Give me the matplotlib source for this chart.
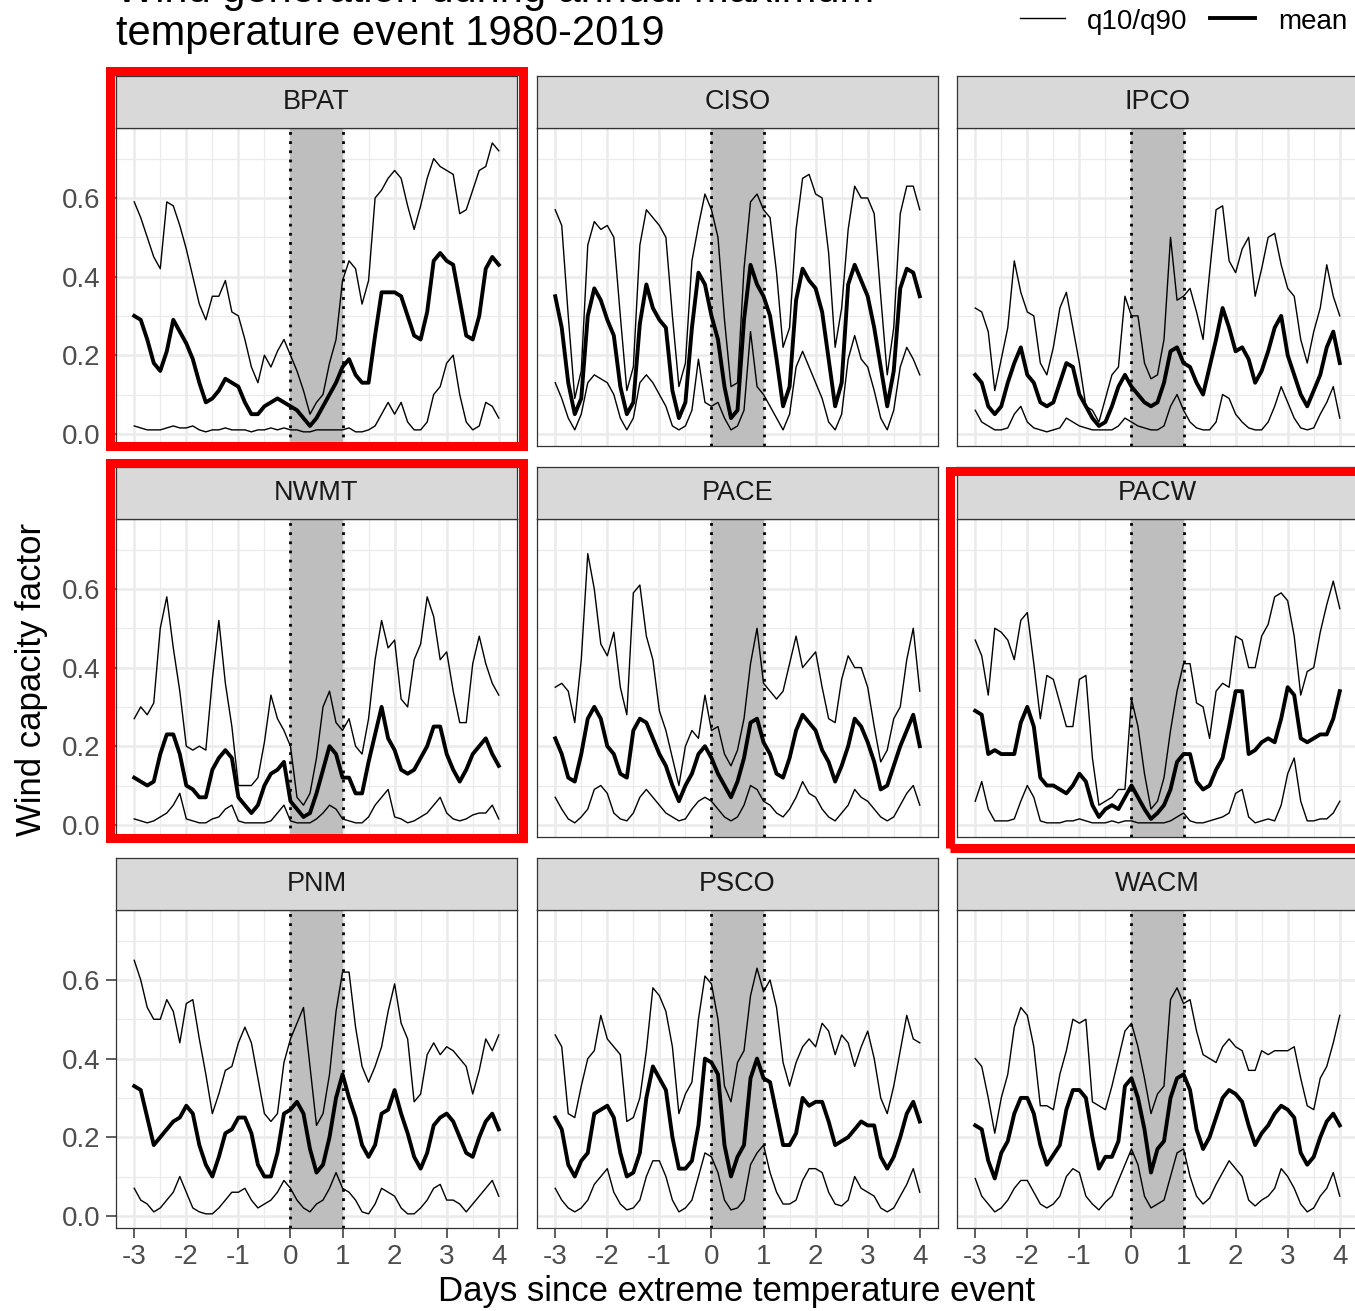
import numpy as np
import matplotlib
matplotlib.use("Agg")
import matplotlib.pyplot as plt
from matplotlib.patches import Rectangle
from matplotlib.lines import Line2D

plt.rcParams['font.family'] = ['Liberation Sans', 'DejaVu Sans']

# ---------------------------------------------------------------------------
# Data: wind capacity factor every 3 hours, from 3 days before to 4 days after
# the annual maximum temperature event (day 0).
# ---------------------------------------------------------------------------
hours = np.arange(0, 169, 3)
days = hours / 24 - 3

regions = ['BPAT', 'CISO', 'IPCO', 'NWMT', 'PACE', 'PACW', 'PNM', 'PSCO', 'WACM']
highlighted = ['BPAT', 'NWMT', 'PACW']

bpat_q90 = [0.59, 0.55, 0.50, 0.45, 0.42, 0.59, 0.58, 0.53, 0.47, 0.40,
            0.33, 0.29, 0.35, 0.35, 0.39, 0.31, 0.30, 0.24, 0.17, 0.13,
            0.20, 0.17, 0.21, 0.24, 0.20, 0.16, 0.11, 0.05, 0.08, 0.10,
            0.18, 0.24, 0.39, 0.44, 0.42, 0.33, 0.39, 0.60, 0.62, 0.65,
            0.67, 0.65, 0.58, 0.52, 0.58, 0.65, 0.70, 0.68, 0.67, 0.66,
            0.56, 0.57, 0.62, 0.67, 0.68, 0.74, 0.72]
bpat_mean = [0.30, 0.29, 0.24, 0.18, 0.16, 0.21, 0.29, 0.26, 0.23, 0.19,
             0.13, 0.08, 0.09, 0.11, 0.14, 0.13, 0.12, 0.08, 0.05, 0.05,
             0.07, 0.08, 0.09, 0.08, 0.07, 0.06, 0.04, 0.02, 0.04, 0.07,
             0.10, 0.13, 0.17, 0.19, 0.15, 0.13, 0.13, 0.25, 0.36, 0.36,
             0.36, 0.35, 0.30, 0.25, 0.24, 0.31, 0.44, 0.46, 0.44, 0.43,
             0.34, 0.25, 0.24, 0.30, 0.42, 0.45, 0.43]
bpat_q10 = [0.02, 0.015, 0.01, 0.01, 0.01, 0.015, 0.02, 0.015, 0.015, 0.02,
            0.01, 0.005, 0.01, 0.01, 0.015, 0.01, 0.01, 0.01, 0.005, 0.01,
            0.01, 0.015, 0.01, 0.015, 0.01, 0.01, 0.005, 0.005, 0.01, 0.01,
            0.01, 0.01, 0.01, 0.015, 0.005, 0.005, 0.01, 0.02, 0.05, 0.08,
            0.05, 0.08, 0.03, 0.01, 0.01, 0.03, 0.10, 0.12, 0.18, 0.20,
            0.10, 0.03, 0.01, 0.02, 0.08, 0.07, 0.04]

ciso_q90 = [0.57, 0.53, 0.30, 0.09, 0.16, 0.48, 0.54, 0.52, 0.53, 0.50,
            0.30, 0.11, 0.17, 0.48, 0.57, 0.55, 0.53, 0.50, 0.30, 0.12,
            0.18, 0.44, 0.53, 0.61, 0.57, 0.50, 0.29, 0.12, 0.13, 0.42,
            0.59, 0.61, 0.57, 0.55, 0.41, 0.22, 0.27, 0.52, 0.65, 0.66,
            0.61, 0.60, 0.46, 0.22, 0.32, 0.52, 0.63, 0.60, 0.60, 0.56,
            0.35, 0.15, 0.27, 0.56, 0.63, 0.63, 0.57]
ciso_mean = [0.35, 0.27, 0.13, 0.05, 0.09, 0.30, 0.37, 0.34, 0.29, 0.25,
             0.12, 0.05, 0.08, 0.28, 0.38, 0.32, 0.29, 0.27, 0.11, 0.04,
             0.08, 0.27, 0.41, 0.38, 0.30, 0.24, 0.12, 0.04, 0.06, 0.29,
             0.43, 0.38, 0.35, 0.30, 0.19, 0.07, 0.12, 0.34, 0.42, 0.39,
             0.37, 0.31, 0.19, 0.07, 0.13, 0.38, 0.43, 0.39, 0.35, 0.27,
             0.17, 0.07, 0.16, 0.37, 0.42, 0.41, 0.35]
ciso_q10 = [0.13, 0.09, 0.04, 0.01, 0.05, 0.13, 0.15, 0.14, 0.13, 0.10,
            0.04, 0.01, 0.04, 0.13, 0.15, 0.13, 0.10, 0.07, 0.02, 0.01,
            0.02, 0.06, 0.19, 0.08, 0.07, 0.08, 0.04, 0.01, 0.02, 0.06,
            0.26, 0.12, 0.10, 0.07, 0.04, 0.01, 0.05, 0.17, 0.21, 0.17,
            0.13, 0.09, 0.03, 0.01, 0.05, 0.19, 0.25, 0.19, 0.17, 0.11,
            0.04, 0.01, 0.06, 0.17, 0.22, 0.19, 0.15]

ipco_q90 = [0.32, 0.31, 0.26, 0.11, 0.19, 0.27, 0.44, 0.36, 0.31, 0.30,
            0.18, 0.15, 0.22, 0.32, 0.36, 0.27, 0.18, 0.07, 0.06, 0.03,
            0.09, 0.15, 0.17, 0.35, 0.30, 0.30, 0.18, 0.14, 0.15, 0.24,
            0.50, 0.34, 0.35, 0.37, 0.31, 0.24, 0.41, 0.57, 0.58, 0.44,
            0.41, 0.47, 0.50, 0.35, 0.42, 0.50, 0.51, 0.43, 0.37, 0.35,
            0.24, 0.18, 0.26, 0.32, 0.43, 0.35, 0.30]
ipco_mean = [0.15, 0.13, 0.07, 0.05, 0.07, 0.13, 0.18, 0.22, 0.15, 0.13,
             0.08, 0.07, 0.08, 0.13, 0.18, 0.17, 0.10, 0.07, 0.04, 0.02,
             0.03, 0.07, 0.12, 0.15, 0.12, 0.10, 0.08, 0.07, 0.08, 0.13,
             0.21, 0.22, 0.18, 0.17, 0.13, 0.10, 0.17, 0.24, 0.32, 0.27,
             0.21, 0.22, 0.19, 0.13, 0.16, 0.21, 0.27, 0.30, 0.20, 0.15,
             0.10, 0.07, 0.11, 0.15, 0.22, 0.26, 0.18]
ipco_q10 = [0.06, 0.03, 0.02, 0.01, 0.01, 0.015, 0.05, 0.07, 0.03, 0.015,
            0.01, 0.005, 0.01, 0.015, 0.04, 0.03, 0.02, 0.015, 0.01, 0.01,
            0.01, 0.01, 0.02, 0.04, 0.03, 0.02, 0.015, 0.01, 0.01, 0.02,
            0.07, 0.10, 0.06, 0.03, 0.015, 0.01, 0.01, 0.03, 0.10, 0.09,
            0.05, 0.03, 0.015, 0.01, 0.01, 0.03, 0.07, 0.12, 0.08, 0.04,
            0.015, 0.01, 0.015, 0.05, 0.08, 0.12, 0.04]

nwmt_q90 = [0.27, 0.30, 0.28, 0.31, 0.50, 0.58, 0.45, 0.34, 0.20, 0.19,
            0.20, 0.19, 0.37, 0.52, 0.36, 0.25, 0.10, 0.10, 0.10, 0.12,
            0.21, 0.33, 0.27, 0.24, 0.20, 0.07, 0.05, 0.08, 0.17, 0.30,
            0.34, 0.26, 0.24, 0.27, 0.20, 0.18, 0.27, 0.42, 0.52, 0.45,
            0.47, 0.32, 0.30, 0.42, 0.46, 0.58, 0.53, 0.42, 0.44, 0.34,
            0.26, 0.26, 0.41, 0.48, 0.41, 0.36, 0.33]
nwmt_mean = [0.12, 0.11, 0.10, 0.11, 0.18, 0.23, 0.23, 0.18, 0.10, 0.09,
             0.07, 0.07, 0.14, 0.17, 0.19, 0.17, 0.07, 0.05, 0.03, 0.05,
             0.10, 0.13, 0.14, 0.16, 0.06, 0.04, 0.02, 0.03, 0.08, 0.14,
             0.20, 0.18, 0.12, 0.12, 0.08, 0.08, 0.16, 0.23, 0.30, 0.22,
             0.19, 0.14, 0.13, 0.14, 0.17, 0.20, 0.25, 0.25, 0.18, 0.14,
             0.11, 0.14, 0.18, 0.20, 0.22, 0.18, 0.15]
nwmt_q10 = [0.015, 0.01, 0.005, 0.01, 0.02, 0.03, 0.05, 0.08, 0.015, 0.01,
            0.005, 0.005, 0.015, 0.02, 0.04, 0.05, 0.01, 0.005, 0.005, 0.005,
            0.005, 0.01, 0.03, 0.05, 0.01, 0.005, 0.005, 0.005, 0.015, 0.03,
            0.05, 0.04, 0.015, 0.01, 0.005, 0.005, 0.02, 0.05, 0.07, 0.09,
            0.02, 0.015, 0.005, 0.01, 0.02, 0.03, 0.05, 0.07, 0.03, 0.015,
            0.01, 0.015, 0.025, 0.03, 0.03, 0.05, 0.015]

pace_q90 = [0.35, 0.36, 0.34, 0.26, 0.42, 0.69, 0.60, 0.46, 0.43, 0.49,
            0.35, 0.28, 0.59, 0.61, 0.48, 0.42, 0.29, 0.24, 0.17, 0.10,
            0.20, 0.24, 0.22, 0.33, 0.24, 0.25, 0.18, 0.15, 0.19, 0.27,
            0.41, 0.50, 0.36, 0.34, 0.32, 0.34, 0.41, 0.48, 0.40, 0.42,
            0.44, 0.35, 0.27, 0.26, 0.37, 0.43, 0.40, 0.40, 0.35, 0.25,
            0.16, 0.19, 0.27, 0.30, 0.42, 0.50, 0.34]
pace_mean = [0.22, 0.18, 0.12, 0.11, 0.18, 0.27, 0.30, 0.27, 0.20, 0.18,
             0.13, 0.12, 0.24, 0.27, 0.26, 0.22, 0.18, 0.15, 0.10, 0.06,
             0.10, 0.13, 0.18, 0.20, 0.17, 0.13, 0.10, 0.07, 0.11, 0.17,
             0.26, 0.27, 0.21, 0.18, 0.13, 0.12, 0.17, 0.24, 0.28, 0.26,
             0.24, 0.19, 0.16, 0.11, 0.15, 0.20, 0.27, 0.25, 0.21, 0.16,
             0.09, 0.10, 0.15, 0.20, 0.24, 0.28, 0.20]
pace_q10 = [0.07, 0.04, 0.015, 0.005, 0.02, 0.04, 0.09, 0.10, 0.08, 0.03,
            0.015, 0.01, 0.03, 0.07, 0.09, 0.07, 0.05, 0.03, 0.02, 0.01,
            0.015, 0.04, 0.06, 0.07, 0.06, 0.04, 0.02, 0.01, 0.02, 0.05,
            0.10, 0.09, 0.06, 0.05, 0.03, 0.02, 0.04, 0.07, 0.11, 0.08,
            0.07, 0.04, 0.02, 0.01, 0.03, 0.05, 0.09, 0.07, 0.06, 0.04,
            0.02, 0.01, 0.02, 0.05, 0.08, 0.10, 0.05]

pacw_q90 = [0.47, 0.43, 0.33, 0.50, 0.49, 0.47, 0.42, 0.52, 0.54, 0.41,
            0.27, 0.38, 0.37, 0.31, 0.25, 0.25, 0.37, 0.38, 0.17, 0.05,
            0.06, 0.07, 0.09, 0.09, 0.32, 0.25, 0.13, 0.04, 0.06, 0.12,
            0.24, 0.34, 0.41, 0.41, 0.31, 0.30, 0.22, 0.34, 0.36, 0.35,
            0.48, 0.47, 0.40, 0.40, 0.48, 0.51, 0.58, 0.59, 0.57, 0.48,
            0.33, 0.39, 0.40, 0.49, 0.56, 0.62, 0.55]
pacw_mean = [0.29, 0.28, 0.18, 0.19, 0.18, 0.18, 0.18, 0.26, 0.30, 0.25,
             0.12, 0.10, 0.10, 0.09, 0.08, 0.10, 0.13, 0.11, 0.05, 0.02,
             0.04, 0.05, 0.04, 0.07, 0.10, 0.07, 0.04, 0.015, 0.03, 0.05,
             0.09, 0.16, 0.18, 0.18, 0.11, 0.09, 0.10, 0.14, 0.17, 0.25,
             0.34, 0.34, 0.18, 0.19, 0.21, 0.22, 0.21, 0.27, 0.35, 0.33,
             0.22, 0.21, 0.22, 0.23, 0.23, 0.27, 0.34]
pacw_q10 = [0.06, 0.11, 0.04, 0.01, 0.01, 0.01, 0.015, 0.06, 0.10, 0.07,
            0.01, 0.005, 0.005, 0.005, 0.01, 0.01, 0.015, 0.01, 0.005, 0.005,
            0.005, 0.01, 0.005, 0.01, 0.01, 0.005, 0.005, 0.005, 0.005, 0.005,
            0.01, 0.02, 0.03, 0.01, 0.005, 0.005, 0.01, 0.015, 0.02, 0.03,
            0.08, 0.09, 0.02, 0.005, 0.01, 0.015, 0.01, 0.05, 0.13, 0.17,
            0.06, 0.01, 0.01, 0.015, 0.015, 0.03, 0.06]

pnm_q90 = [0.65, 0.60, 0.53, 0.50, 0.50, 0.55, 0.52, 0.44, 0.54, 0.55,
           0.45, 0.36, 0.26, 0.31, 0.37, 0.38, 0.44, 0.48, 0.44, 0.35,
           0.26, 0.24, 0.26, 0.39, 0.45, 0.49, 0.53, 0.38, 0.23, 0.26,
           0.36, 0.52, 0.62, 0.62, 0.48, 0.38, 0.34, 0.38, 0.43, 0.52,
           0.59, 0.49, 0.45, 0.29, 0.31, 0.41, 0.44, 0.41, 0.43, 0.42,
           0.40, 0.38, 0.31, 0.37, 0.45, 0.42, 0.46]
pnm_mean = [0.33, 0.32, 0.25, 0.18, 0.20, 0.22, 0.24, 0.25, 0.28, 0.26,
            0.18, 0.13, 0.10, 0.15, 0.21, 0.22, 0.25, 0.25, 0.21, 0.13,
            0.10, 0.10, 0.16, 0.26, 0.27, 0.29, 0.26, 0.17, 0.11, 0.13,
            0.20, 0.30, 0.36, 0.30, 0.25, 0.18, 0.15, 0.18, 0.26, 0.27,
            0.32, 0.26, 0.21, 0.15, 0.12, 0.16, 0.23, 0.25, 0.26, 0.24,
            0.20, 0.16, 0.15, 0.20, 0.24, 0.26, 0.22]
pnm_q10 = [0.07, 0.04, 0.03, 0.01, 0.02, 0.04, 0.06, 0.10, 0.06, 0.02,
           0.01, 0.005, 0.005, 0.02, 0.04, 0.06, 0.06, 0.07, 0.04, 0.02,
           0.03, 0.04, 0.06, 0.09, 0.07, 0.04, 0.02, 0.01, 0.03, 0.04,
           0.07, 0.11, 0.07, 0.06, 0.04, 0.01, 0.005, 0.03, 0.07, 0.06,
           0.05, 0.02, 0.005, 0.005, 0.02, 0.04, 0.07, 0.08, 0.04, 0.04,
           0.03, 0.01, 0.03, 0.05, 0.07, 0.09, 0.05]

psco_q90 = [0.46, 0.43, 0.26, 0.25, 0.33, 0.40, 0.42, 0.51, 0.45, 0.43,
            0.41, 0.24, 0.25, 0.30, 0.42, 0.58, 0.56, 0.52, 0.43, 0.26,
            0.31, 0.34, 0.50, 0.61, 0.59, 0.50, 0.33, 0.29, 0.39, 0.42,
            0.56, 0.63, 0.57, 0.60, 0.53, 0.39, 0.33, 0.39, 0.43, 0.45,
            0.43, 0.49, 0.47, 0.41, 0.46, 0.44, 0.38, 0.43, 0.47, 0.40,
            0.30, 0.26, 0.33, 0.42, 0.51, 0.45, 0.44]
psco_mean = [0.25, 0.22, 0.13, 0.10, 0.14, 0.16, 0.26, 0.27, 0.28, 0.25,
             0.16, 0.10, 0.11, 0.16, 0.30, 0.38, 0.35, 0.32, 0.20, 0.12,
             0.12, 0.14, 0.23, 0.40, 0.39, 0.36, 0.18, 0.10, 0.15, 0.18,
             0.35, 0.40, 0.35, 0.34, 0.26, 0.18, 0.18, 0.21, 0.30, 0.28,
             0.29, 0.29, 0.24, 0.18, 0.19, 0.20, 0.22, 0.24, 0.23, 0.23,
             0.15, 0.12, 0.15, 0.20, 0.26, 0.29, 0.24]
psco_q10 = [0.07, 0.04, 0.02, 0.01, 0.02, 0.04, 0.08, 0.10, 0.12, 0.06,
            0.03, 0.015, 0.02, 0.04, 0.10, 0.14, 0.14, 0.10, 0.04, 0.01,
            0.02, 0.04, 0.10, 0.16, 0.15, 0.11, 0.04, 0.015, 0.02, 0.04,
            0.13, 0.16, 0.18, 0.11, 0.06, 0.03, 0.03, 0.04, 0.09, 0.12,
            0.12, 0.11, 0.06, 0.03, 0.025, 0.04, 0.10, 0.07, 0.06, 0.05,
            0.02, 0.01, 0.02, 0.05, 0.08, 0.12, 0.06]

wacm_q90 = [0.40, 0.38, 0.30, 0.21, 0.30, 0.36, 0.48, 0.53, 0.51, 0.43,
            0.28, 0.28, 0.27, 0.36, 0.42, 0.50, 0.49, 0.50, 0.29, 0.28,
            0.27, 0.33, 0.40, 0.47, 0.49, 0.43, 0.35, 0.26, 0.31, 0.33,
            0.55, 0.58, 0.54, 0.55, 0.47, 0.41, 0.40, 0.39, 0.43, 0.45,
            0.43, 0.42, 0.37, 0.37, 0.42, 0.41, 0.42, 0.42, 0.42, 0.43,
            0.35, 0.28, 0.27, 0.35, 0.38, 0.44, 0.51]
wacm_mean = [0.23, 0.22, 0.14, 0.095, 0.16, 0.19, 0.26, 0.30, 0.30, 0.26,
             0.18, 0.13, 0.155, 0.18, 0.27, 0.32, 0.32, 0.30, 0.20, 0.12,
             0.15, 0.15, 0.19, 0.33, 0.35, 0.30, 0.22, 0.11, 0.17, 0.19,
             0.30, 0.35, 0.36, 0.32, 0.22, 0.17, 0.20, 0.25, 0.30, 0.32,
             0.31, 0.29, 0.23, 0.18, 0.21, 0.23, 0.26, 0.28, 0.27, 0.25,
             0.16, 0.13, 0.15, 0.20, 0.24, 0.26, 0.23]
wacm_q10 = [0.095, 0.05, 0.03, 0.01, 0.02, 0.04, 0.07, 0.09, 0.09, 0.06,
            0.03, 0.02, 0.03, 0.05, 0.10, 0.12, 0.11, 0.05, 0.03, 0.015,
            0.035, 0.05, 0.09, 0.13, 0.17, 0.13, 0.05, 0.02, 0.03, 0.04,
            0.10, 0.16, 0.17, 0.10, 0.05, 0.03, 0.045, 0.08, 0.11, 0.14,
            0.12, 0.10, 0.04, 0.025, 0.04, 0.05, 0.07, 0.12, 0.10, 0.07,
            0.03, 0.01, 0.02, 0.05, 0.07, 0.11, 0.05]

series = {
    'BPAT': (bpat_q10, bpat_mean, bpat_q90),
    'CISO': (ciso_q10, ciso_mean, ciso_q90),
    'IPCO': (ipco_q10, ipco_mean, ipco_q90),
    'NWMT': (nwmt_q10, nwmt_mean, nwmt_q90),
    'PACE': (pace_q10, pace_mean, pace_q90),
    'PACW': (pacw_q10, pacw_mean, pacw_q90),
    'PNM': (pnm_q10, pnm_mean, pnm_q90),
    'PSCO': (psco_q10, psco_mean, psco_q90),
    'WACM': (wacm_q10, wacm_mean, wacm_q90),
}

x_ticks = [-3, -2, -1, 0, 1, 2, 3, 4]
y_ticks = [0.0, 0.2, 0.4, 0.6]
y_tick_labels = ['0.0', '0.2', '0.4', '0.6']

# ---------------------------------------------------------------------------
# Layout (pixel based, converted to figure fractions)
# ---------------------------------------------------------------------------
W, H = 1355, 1311
fig = plt.figure(figsize=(W / 100, H / 100), dpi=100)
fig.patch.set_facecolor('white')


def fx(px):
    return px / W


def fy(py):
    return 1 - py / H


col_left = [116, 537, 957]
row_top = [128, 519, 910]
panel_w, panel_h, strip_h = 401, 318, 52

BORDER = '#333333'
GRID = '#EBEBEB'
TICK_TXT = '#4D4D4D'

for i, name in enumerate(regions):
    r, c = divmod(i, 3)
    left, top = col_left[c], row_top[r]
    ax = fig.add_axes([fx(left), fy(top + panel_h), panel_w / W, panel_h / H])
    q10, mean, q90 = series[name]

    ax.axvspan(0, 1, color='#BEBEBE', lw=0, zorder=1)
    for xv in (0, 1):
        ax.axvline(xv, color='black', lw=2.0, ls=(0, (1, 2.3)), zorder=2)
    ax.plot(days, q10, color='black', lw=1.0, zorder=3)
    ax.plot(days, q90, color='black', lw=1.0, zorder=3)
    ax.plot(days, mean, color='black', lw=2.8, zorder=4)

    ax.set_xlim(-3.35, 4.35)
    ax.set_ylim(-0.031, 0.778)
    ax.set_xticks(x_ticks)
    ax.set_xticks(np.arange(-2.5, 4.0, 1.0), minor=True)
    ax.set_yticks(y_ticks)
    ax.set_yticks([0.1, 0.3, 0.5, 0.7], minor=True)
    ax.set_axisbelow(True)
    ax.grid(which='major', color=GRID, lw=1.8)
    ax.grid(which='minor', color=GRID, lw=0.9)
    for sp in ax.spines.values():
        sp.set_color(BORDER)
        sp.set_linewidth(0.9)
    ax.tick_params(which='minor', length=0)
    ax.tick_params(which='major', color=BORDER, width=1.1, length=7,
                   labelsize=20, labelcolor=TICK_TXT)
    ax.tick_params(axis='x', pad=4.5)
    ax.tick_params(axis='y', pad=4)

    if c == 0:
        ax.set_yticklabels(y_tick_labels)
    else:
        ax.tick_params(axis='y', length=0, labelleft=False)
    if r == 2:
        ax.set_xticklabels([str(t) for t in x_ticks])
    else:
        ax.tick_params(axis='x', length=0, labelbottom=False)

    # facet strip
    sax = fig.add_axes([fx(left), fy(top), panel_w / W, strip_h / H])
    sax.set_facecolor('#D9D9D9')
    sax.set_xticks([])
    sax.set_yticks([])
    for sp in sax.spines.values():
        sp.set_color(BORDER)
        sp.set_linewidth(0.9)
    sax.text(0.5, 0.5, name, ha='center', va='center', size=19.5,
             color='#1A1A1A', transform=sax.transAxes)

# axis titles
fig.text(fx(32), fy(679), 'Wind capacity factor', rotation=90,
         ha='center', va='center', size=25, color='black')
fig.text(fx(737), fy(1292), 'Days since extreme temperature event',
         ha='center', va='center', size=25, color='black')

# title (two lines)
fig.text(fx(116), fy(2), 'Wind generation during annual maximum',
         ha='left', va='baseline', size=30, color='black')
fig.text(fx(116), fy(45), 'temperature event 1980-2019',
         ha='left', va='baseline', size=30, color='black')

# legend
fig.add_artist(Line2D([fx(1020), fx(1065)], [fy(18), fy(18)],
                      color='black', lw=1.0, transform=fig.transFigure))
fig.text(fx(1087), fy(29), 'q10/q90', ha='left', va='baseline', size=20)
fig.add_artist(Line2D([fx(1210), fx(1255)], [fy(18), fy(18)],
                      color='black', lw=2.8, transform=fig.transFigure))
fig.text(fx(1278), fy(29), 'mean', ha='left', va='baseline', size=20)

# red highlight boxes around selected regions
boxes = {
    'BPAT': (110, 71.5, 523, 446),
    'NWMT': (110, 462.5, 523, 838),
    'PACW': (950, 471, 1364, 848),
}
for name in highlighted:
    x0, y0, x1, y1 = boxes[name]
    rect = Rectangle((fx(x0), fy(y1)), (x1 - x0) / W, (y1 - y0) / H,
                     transform=fig.transFigure, fill=False,
                     edgecolor='#FF0000', lw=6.5, joinstyle='miter',
                     zorder=10)
    fig.add_artist(rect)

fig.savefig('out.png', dpi=100)
